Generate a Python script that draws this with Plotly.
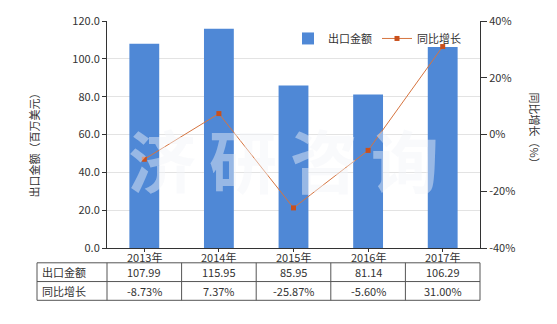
import plotly.graph_objects as go

# Export value (million USD) and year-on-year growth (%) by year
years = ["2013年", "2014年", "2015年", "2016年", "2017年"]
export_value = [107.99, 115.95, 85.95, 81.14, 106.29]
yoy_growth = [-8.73, 7.37, -25.87, -5.60, 31.00]
row_labels = ["出口金额", "同比增长"]
left_ticks = [0, 20, 40, 60, 80, 100, 120]
right_ticks = [-40, -20, 0, 20, 40]

W, H = 557, 324
L, R, T, B = 107, 480, 18, 248  # plot area in pixels
FONT = "Noto Sans CJK SC, Microsoft YaHei, sans-serif"
TXT = "#333333"

def px_x(p):
    return (p - L) / (R - L)

def px_y(p):
    return (B - p) / (B - T)

fig = go.Figure()
fig.add_trace(go.Bar(
    x=years, y=export_value, name="出口金额",
    marker=dict(color="#4f88d6", line=dict(width=0)), width=0.4,
))
fig.add_trace(go.Scatter(
    x=years, y=yoy_growth, name="同比增长", yaxis="y2", mode="lines+markers",
    line=dict(color="#d6743f", width=1),
    marker=dict(symbol="square", size=5, color="#c9501c"),
))

# Watermark characters
for ch, cx in zip("济研咨询", [162, 243, 324, 405]):
    fig.add_annotation(
        text=ch, x=px_x(cx), y=px_y(157), xref="paper", yref="paper",
        xanchor="center", yanchor="middle", showarrow=False,
        font=dict(size=68, color="rgba(242,244,248,0.45)", family=FONT, weight="bold"),
    )

# Category labels under the x axis
for yr in years:
    fig.add_annotation(text=yr, x=yr, y=px_y(257), xref="x", yref="paper",
                       xanchor="center", yanchor="middle", showarrow=False,
                       font=dict(size=11, color=TXT, family=FONT))

# Data table under the x axis
n = len(years)
tbl_left, tbl_right = px_x(37), 1.0
y_top, y_mid, y_bot = px_y(263), px_y(282), px_y(301)
line_style = dict(color="#555555", width=1)
for yy in (y_top, y_mid, y_bot):
    fig.add_shape(type="line", xref="paper", yref="paper", x0=tbl_left, x1=tbl_right,
                  y0=yy, y1=yy, line=line_style)
for xx in [tbl_left] + [i / n for i in range(n + 1)]:
    fig.add_shape(type="line", xref="paper", yref="paper", x0=xx, x1=xx,
                  y0=y_top, y1=y_bot, line=line_style)

row_y = [px_y(272.5), px_y(291.5)]
for label, yy in zip(row_labels, row_y):
    fig.add_annotation(text=label, x=px_x(40), y=yy, xref="paper", yref="paper",
                       xanchor="left", yanchor="middle", showarrow=False,
                       font=dict(size=11, color=TXT, family=FONT))
for i in range(n):
    cx = (i + 0.5) / n
    fig.add_annotation(text=f"{export_value[i]:.2f}", x=cx, y=row_y[0], xref="paper",
                       yref="paper", xanchor="center", yanchor="middle", showarrow=False,
                       font=dict(size=11, color=TXT, family=FONT))
    fig.add_annotation(text=f"{yoy_growth[i]:.2f}%", x=cx, y=row_y[1], xref="paper",
                       yref="paper", xanchor="center", yanchor="middle", showarrow=False,
                       font=dict(size=11, color=TXT, family=FONT))

# Axis titles
fig.add_annotation(text="出口金额（百万美元）", x=px_x(34), y=px_y(141), xref="paper",
                   yref="paper", xanchor="center", yanchor="middle", textangle=-90,
                   showarrow=False, font=dict(size=11, color=TXT, family=FONT))
fig.add_annotation(text="同比增长（%）", x=px_x(535), y=px_y(129), xref="paper",
                   yref="paper", xanchor="center", yanchor="middle", textangle=90,
                   showarrow=False, font=dict(size=11, color=TXT, family=FONT))

fig.update_layout(
    width=W, height=H,
    margin=dict(l=L, r=W - R, t=T, b=H - B),
    paper_bgcolor="white", plot_bgcolor="white",
    font=dict(family=FONT, size=11, color=TXT),
    showlegend=True,
    legend=dict(orientation="h", x=px_x(288), y=px_y(21), xanchor="left", yanchor="top",
                bgcolor="rgba(0,0,0,0)", font=dict(size=11, color=TXT, family=FONT),
                tracegroupgap=0),
    xaxis=dict(
        showline=True, linecolor="#333333", linewidth=1,
        ticks="outside", ticklen=3, tickcolor="#333333",
        showticklabels=False, showgrid=False,
    ),
    yaxis=dict(
        range=[0, 120], tickvals=left_ticks, ticktext=[f"{v:.1f}" for v in left_ticks],
        showline=True, linecolor="#333333", linewidth=1,
        ticks="outside", ticklen=4, tickcolor="#333333",
        showgrid=True, gridcolor="#e3e3e3", gridwidth=1, zeroline=False,
        tickfont=dict(size=11, color=TXT),
    ),
    yaxis2=dict(
        range=[-40, 40], tickvals=right_ticks, ticktext=[f"{v}%" for v in right_ticks],
        overlaying="y", side="right",
        showline=True, linecolor="#333333", linewidth=1,
        ticks="outside", ticklen=6, tickcolor="#333333",
        showgrid=False, zeroline=False,
        tickfont=dict(size=11, color=TXT),
    ),
)

fig.write_html("out.html")
